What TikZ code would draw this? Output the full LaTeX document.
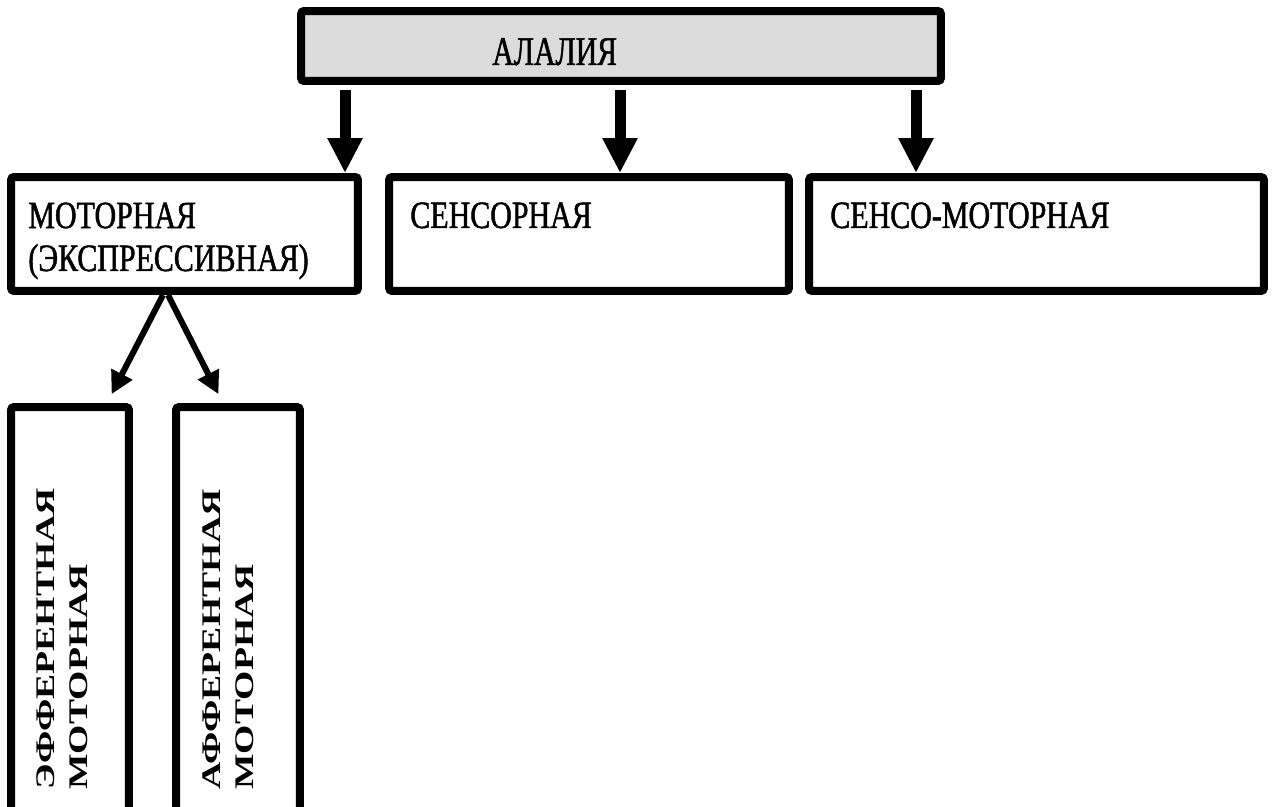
\documentclass[tikz,border=0pt]{standalone}
\usepackage{fontspec}
\setmainfont{Liberation Serif}
\newfontfamily\narrowfont[FakeStretch=0.73,FakeBold=1.2]{Liberation Serif}
\newfontfamily\boxfont[FakeStretch=0.775,FakeBold=1.2]{Liberation Serif}
\newfontfamily\widefont[FakeStretch=1.4]{Liberation Serif}
\usetikzlibrary{arrows.meta}
\definecolor{hdrgray}{RGB}{220,220,220}

\begin{document}
\begin{tikzpicture}
	 [x=0.02cm,y=-0.02cm,
	  box/.style={draw,line width=0.16cm,rounded corners=0.06cm,inner sep=0pt},
	  lbl/.style={inner sep=0pt,anchor=base west,align=left,font=\boxfont\fontsize{22}{24.4}\selectfont},
	  vlbl/.style={inner sep=0pt,anchor=base west,rotate=90,align=left,font=\widefont\bfseries\fontsize{15.3}{18.7}\selectfont},
	  bigarr/.style={-{Triangle[length=0.7cm,width=0.66cm]},line width=0.22cm},
	  smallarr/.style={-{Triangle[length=0.45cm,width=0.45cm]},line width=0.12cm}]
	\useasboundingbox (0,0) rectangle (1272,807);
	\clip (0,0) rectangle (1272,807);

	% top box
	\node (alalia)[box,fill=hdrgray,minimum width=12.8cm,minimum height=1.4cm] at (621,46) {};
	\node (t0)[lbl,font=\narrowfont\fontsize{23.2}{26}\selectfont] at (492,65) {АЛАЛИЯ};

	% second row
	\node (motor)[box,minimum width=6.94cm,minimum height=2.28cm] at (184.5,234) {};
	\node (sens)[box,minimum width=8cm,minimum height=2.28cm] at (589,234) {};
	\node (sensmot)[box,minimum width=9.1cm,minimum height=2.28cm] at (1036.5,234) {};
	\node (t1)[lbl] at (28,271) {МОТОРНАЯ\\(ЭКСПРЕССИВНАЯ)};
	\node (t2)[lbl] at (410,228) {СЕНСОРНАЯ};
	\node (t3)[lbl] at (830,228) {СЕНСО-МОТОРНАЯ};

	\foreach \x/\to in {345/motor,620/sens,916/sensmot}
	  \draw[bigarr,shorten <=0.1cm] (alalia.south -| \x,0) -- (\to.north -| \x,0);

	% third row
	\node (effer)[box,minimum width=2.36cm,minimum height=8.58cm] at (70,621.5) {};
	\node (affer)[box,minimum width=2.48cm,minimum height=8.58cm] at (238,621.5) {};
	\node (t4)[vlbl] at (87,790) {ЭФФЕРЕНТНАЯ\\МОТОРНАЯ};
	\node (t5)[vlbl] at (253,790) {АФФЕРЕНТНАЯ\\МОТОРНАЯ};

	\draw[smallarr,shorten >=0.2cm] (motor.south -| 163,0) -- (effer.north -| 107,0);
	\draw[smallarr,shorten >=0.2cm] (motor.south -| 168,0) -- (affer.north -| 223,0);

\end{tikzpicture}
\end{document}
